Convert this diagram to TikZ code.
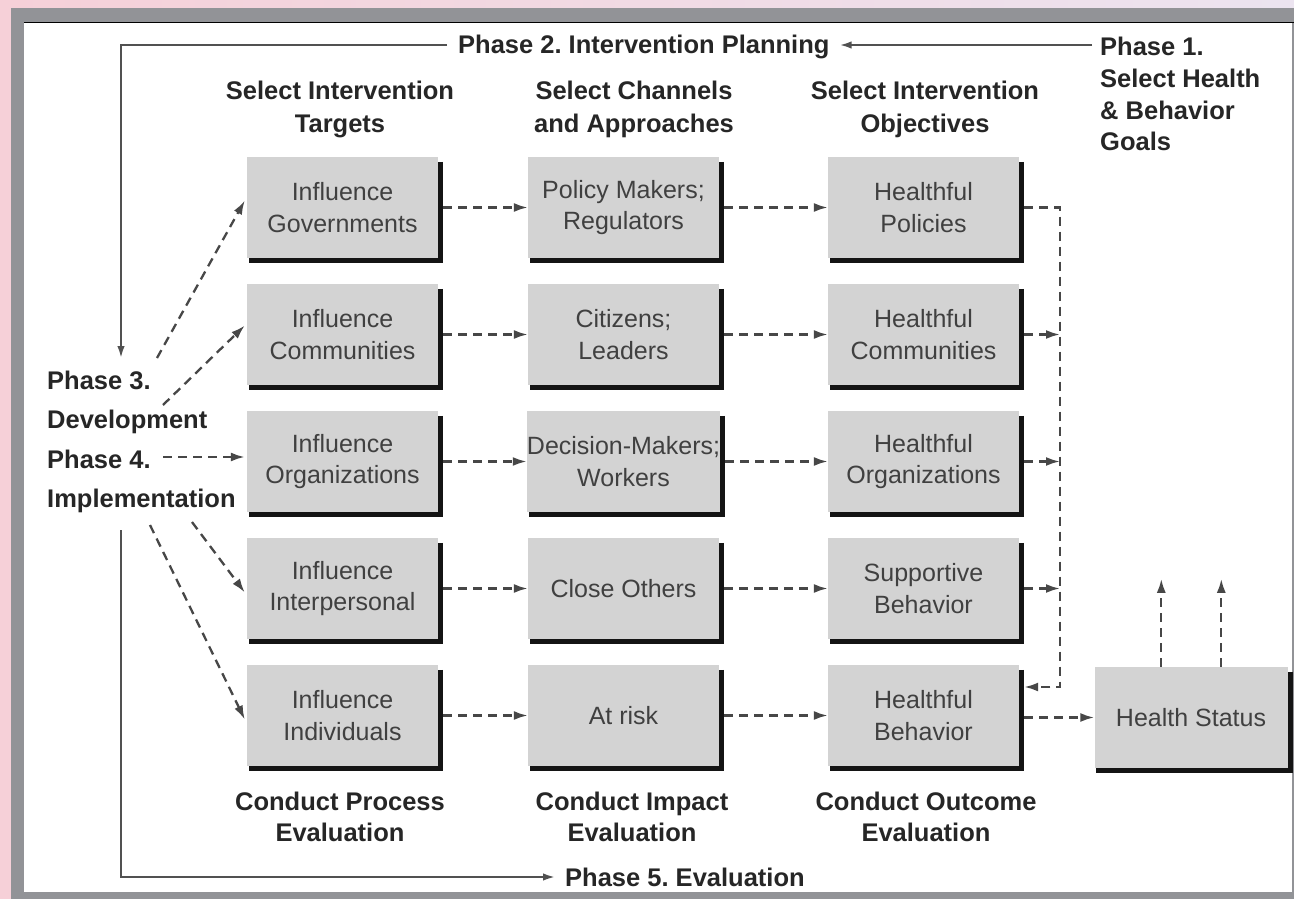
\documentclass[tikz,border=0pt]{standalone}
\usepackage{fontspec}
\setmainfont{Liberation Sans}
\usetikzlibrary{arrows.meta,calc}

\definecolor{boxgray}{HTML}{D3D3D3}
\definecolor{ink}{HTML}{262626}
\definecolor{framegray}{HTML}{929397}
\definecolor{pinkbg}{HTML}{F6D0D8}
\definecolor{lavbg}{HTML}{ECE4F0}

% dark L-shaped edge on the right and bottom of a card
\newcommand\cardshadow[1]{%
  \draw[shadowline] ([xshift=2.5pt,yshift=-5pt]#1.north east)
    -- ([xshift=2.5pt,yshift=-2.5pt]#1.south east)
    -- ([xshift=2pt,yshift=-2.5pt]#1.south west);}

\frenchspacing
\begin{document}
\begin{tikzpicture}[x=1pt,y=-1pt,
  every node/.style={text=ink, inner sep=0pt},
  card/.style={fill=boxgray, minimum width=191pt, minimum height=101pt,
    align=center, font=\fontsize{25}{31.5}\selectfont, text=ink!88},
  lbl/.style={font=\fontsize{25.5}{31.5}\selectfont\bfseries,
    text height=18.3pt, text depth=0pt},
  shadowline/.style={line width=5pt, draw=black!92, line join=miter},
  flow/.style={draw=ink!85, line width=2.3pt, dash pattern=on 9pt off 6pt,
    -{Latex[length=14pt,width=9pt]}},
  cycline/.style={draw=ink!80, line width=2pt},
  cycarrow/.style={cycline, -{Latex[length=12pt,width=7.5pt]}},
]
\useasboundingbox (0,0) rectangle (1294,899);

% page frame
\shade[left color=pinkbg, right color=lavbg] (0,0) rectangle (1294,899);
\fill[framegray] (11,8) rectangle (1294,899);
\fill[white] (24,22) rectangle (1292,892);
\draw[black, line width=1.5pt] (24,22.5) -- (1294,22.5);

% column headings
\node[lbl] (h1a) at (340,90.5) {Select Intervention};
\node[lbl] (h1b) at (340,123) {Targets};
\node[lbl] (h2a) at (634,90.5) {Select Channels};
\node[lbl] (h2b) at (634,123) {and Approaches};
\node[lbl] (h3a) at (925,90.5) {Select Intervention};
\node[lbl] (h3b) at (925,123) {Objectives};

% evaluation headings
\node[lbl] (e1a) at (340,801.5) {Conduct Process};
\node[lbl] (e1b) at (340,832) {Evaluation};
\node[lbl] (e2a) at (632,801.5) {Conduct Impact};
\node[lbl] (e2b) at (632,832) {Evaluation};
\node[lbl] (e3a) at (926,801.5) {Conduct Outcome};
\node[lbl] (e3b) at (926,832) {Evaluation};

% phase labels
\node[lbl,anchor=west] (p1a) at (1100,46) {Phase 1.};
\node[lbl,anchor=west] (p1b) at (1100,78) {Select Health};
\node[lbl,anchor=west] (p1c) at (1100,110) {\& Behavior};
\node[lbl,anchor=west] (p1d) at (1100,141) {Goals};
\node[lbl,anchor=west] (p2) at (458,44) {Phase 2. Intervention Planning};
\node[lbl,anchor=west] (p3a) at (47,380) {Phase 3.};
\node[lbl,anchor=west] (p3b) at (47,419) {Development};
\node[lbl,anchor=west] (p4a) at (47,459) {Phase 4.};
\node[lbl,anchor=west] (p4b) at (47,498) {Implementation};
\node[lbl,anchor=west] (p5) at (565,877) {Phase 5. Evaluation};

% cards: targets
\node[card] (gov)   at (342.5,207.5) {Influence\\Governments};
\node[card] (comm)  at (342.5,334.5) {Influence\\Communities};
\node[card] (org)   at (342.5,461.5) {Influence\\Organizations};
\node[card] (inter) at (342.5,588.5) {Influence\\Interpersonal};
\node[card] (indiv) at (342.5,715.5) {Influence\\Individuals};
% cards: channels
\node[card] (pol)   at (623.5,207.5) {Policy Makers;\\Regulators};
\node[card] (cit)   at (623.5,334.5) {Citizens;\\Leaders};
\node[card] (dec)   at (623.5,461.5) {Decision-Makers;\\Workers};
\node[card] (close) at (623.5,588.5) {Close Others};
\node[card] (risk)  at (623.5,715.5) {At risk};
% cards: objectives
\node[card] (hpol)  at (923.5,207.5) {Healthful\\Policies};
\node[card] (hcom)  at (923.5,334.5) {Healthful\\Communities};
\node[card] (horg)  at (923.5,461.5) {Healthful\\Organizations};
\node[card] (supp)  at (923.5,588.5) {Supportive\\Behavior};
\node[card] (hbeh)  at (923.5,715.5) {Healthful\\Behavior};
% outcome
\node[card, minimum width=193pt] (hstat) at (1191,717.5) {Health Status};

\foreach \n in {gov,comm,org,inter,indiv,pol,cit,dec,close,risk,
                hpol,hcom,horg,supp,hbeh,hstat} {\cardshadow{\n}}

% planning / evaluation cycle
\coordinate (p1in) at (1092,45);
\coordinate (p3tip) at (121,358);
\coordinate (p4foot) at (121,530);
\draw[cycarrow] (p1in) -- ($(p1in -| p2.east)+(10,0)$);
\draw[cycarrow] ($(p1in -| p2.west)+(-11,0)$) -| (p3tip);
\draw[cycarrow] (p4foot) |- ($(p5.west)+(-10,0)$);

% development / implementation toward targets
\coordinate (s1) at (157,358);
\coordinate (s2) at (163,405);
\coordinate (s3) at (163,457);
\coordinate (s4) at (192,522);
\coordinate (s5) at (150,525);
\draw[flow] (s1) -- ($(gov.west)+(-2,-7)$);
\draw[flow] (s2) -- ($(comm.west)+(-2,-9)$);
\draw[flow] (s3) -- ($(org.west)+(-2,-4.5)$);
\draw[flow] (s4) -- ($(inter.west)+(-2,4)$);
\draw[flow] (s5) -- ($(indiv.west)+(-2,4)$);

% targets -> channels -> objectives
\foreach \a/\b in {gov/pol,comm/cit,org/dec,inter/close,indiv/risk,
                   pol/hpol,cit/hcom,dec/horg,close/supp,risk/hbeh} {
  \draw[flow] ([xshift=5pt]\a.east) -- (\b.west);
}

% objectives converge on healthful behavior
\coordinate (fbbot) at (1060,687);
\draw[flow] ([xshift=5pt]hpol.east) -| (fbbot) -- ($(fbbot -| hbeh.east)+(5,0)$);
\foreach \a in {hcom,horg,supp} {
  \draw[flow] ([xshift=5pt]\a.east) -- (\a.east -| fbbot);
}

% behavior -> health status -> goals
\draw[flow] ($(hbeh.east)+(5,2)$) -- (hstat.west);
\draw[flow] ($(hstat.north west)+(67,0)$) -- ++(0,-88);
\draw[flow] ($(hstat.north west)+(127,0)$) -- ++(0,-88);
\end{tikzpicture}
\end{document}
